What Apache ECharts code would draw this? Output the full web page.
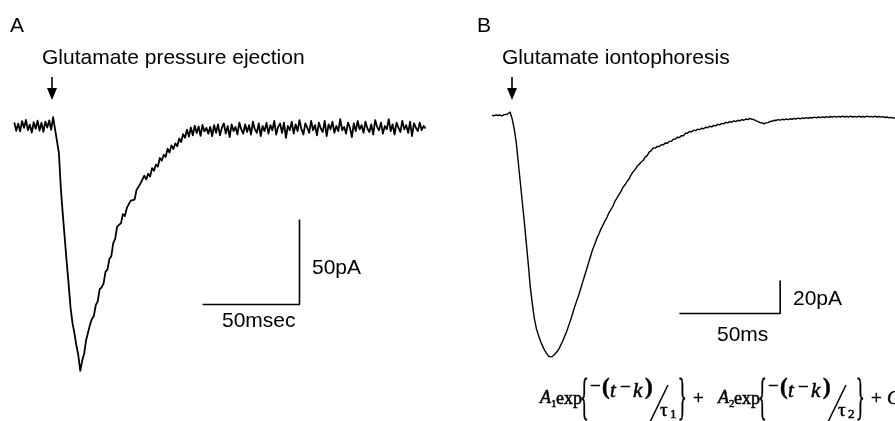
<!DOCTYPE html>
<html>
<head>
<meta charset="utf-8">
<script src="https://cdn.jsdelivr.net/npm/echarts@6/dist/echarts.min.js"></script>
<style>
  html, body { margin: 0; padding: 0; background: #fff; }
  #main { width: 895px; height: 421px; }
</style>
</head>
<body>
<div id="main"></div>
<script>
// sampling step (ms) and first sample time for each trace, 0 = glutamate onset
var dt = 1;
var startA = -22;
var startB = -9;

// A: pressure ejection, current in pA (one row = 10 ms)
var currentA = [
  2.1, -2.8, 1.4, -3.2, 2.9, -1.1, 3.6, -2.4, 0.8, -3.9,
  2.2, -1.6, 3.1, -2.7, 1.9, -3.4, 2.6, -0.9, 3.3, -2.2,
  5.2, -1.8, -1.5, -16, -37, -52, -66, -80, -93, -107,
  -116, -122, -129, -135, -144, -138, -134, -126, -125, -117,
  -113.5, -111.8, -105.4, -103.2, -96.1, -94.9, -92.7, -85.8, -84.5, -78.3,
  -76.6, -68.9, -66.4, -59.2, -58.8, -57.1, -51.8, -53, -48.2, -49.1,
  -43.9, -44.2, -43.3, -37.6, -38.5, -33.9, -34.1, -29.2, -31.4, -28.1,
  -29.7, -24.8, -26.3, -22.7, -23.9, -18.8, -20.4, -16.9, -18.2, -13.3,
  -15.6, -11.4, -13.5, -10.2, -11.9, -7.3, -9.4, -4.8, -6.9, -2.1,
  -6.2, -0.9, -5.5, 0.2, -4.1, -0.3, -5.8, 0.6, -3.2, -1.1,
  -4.5, -0.5, -6, 0.5, -4, 1, -5.5, -1, 1.5, -4.5,
  0, -6.5, 1, -3, -0.5, -5, 2, -2, -4.5, 1,
  -3.5, 0.5, -5, 2.5, -2, -4, 1.5, -6, 0, -3,
  2, -4.5, 0.5, -2.5, 3, -5, -0.5, 1.5, -4, 2,
  -7, 0, -2.5, 2.5, -4.5, 1, -3, 3.5, -2, -5,
  1.5, -1, -4, 3, -2.5, 0.5, -5.5, 2, -1.5, -3.5,
  3, -6, 1, -2, 2.5, -4, 0, -3, 4, -2.5,
  -0.5, -4.5, 2, -1, -6.5, 1.5, -3, 3, -2, 0.5,
  -4, 2.5, -1.5, -3.5, 1, -5, 3.5, -0.5, -2.5, 2,
  -4.5, 0, -2, 4, -3, 1, -5, 2, -1, -3.5,
  3, -2, 0.5, -4, 2.5, -6, 1.5, -1, -3, 2,
  -2.5, 0, -1.5
];

// B: iontophoresis, current in pA (one row = 10 ms)
var currentB = [
  0.2, -0.2, 0.4, 0, 0.3, -0.3, 0.5, 0.6, 1.2, 2.0,
  -2, -8, -16, -28, -40, -52, -64, -77, -90, -104,
  -114, -123, -129, -133, -136.5, -139.5, -142, -144, -145.8, -146.3,
  -146, -144.8, -143.5, -142, -139.5, -137, -134, -131, -127.5, -124,
  -120, -116, -112.5, -109, -105, -101, -97, -93, -89, -85,
  -81, -78, -74.5, -72, -69, -66.5, -64, -62, -59, -57,
  -55, -52, -50, -48, -46, -43.5, -42, -40, -38.5, -36,
  -34.2, -32.8, -30.8, -29.7, -28.2, -27.3, -25.2, -24.3, -22.2, -21.3,
  -19.7, -19.8, -18.7, -18.8, -17.7, -17.8, -16.7, -16.8, -15.7, -15.6,
  -14.4, -14.3, -13.2, -13.3, -12.2, -12.3, -10.8, -10.8, -9.7, -9.9,
  -8.9, -9.2, -8.3, -8.6, -7.7, -8.0, -7.1, -7.4, -6.5, -6.9,
  -6.0, -6.3, -5.4, -5.7, -4.8, -5.1, -4.2, -4.5, -3.7, -4.1,
  -3.3, -3.7, -2.9, -3.3, -2.5, -2.9, -2.1, -2.5, -1.8, -2.3,
  -2.5, -3.3, -3.6, -4.4, -4.5, -5.0, -4.5, -4.3, -3.6, -3.5,
  -2.9, -3.0, -2.5, -2.8, -2.3, -2.6, -2.1, -2.5, -2.0, -2.3,
  -1.8, -2.1, -1.6, -2.0, -1.5, -1.8, -1.3, -1.7, -1.2, -1.5,
  -1.0, -1.4, -0.9, -1.3, -0.8, -1.2, -0.7, -1.1, -0.6, -1.0,
  -0.5, -1.0, -0.5, -0.9, -0.4, -0.9, -0.5, -1.0, -0.4, -0.9,
  -0.5, -1.0, -0.4, -0.9, -0.6, -1.0, -0.4, -0.8, -0.5, -1.0,
  -0.4, -0.9, -0.6, -1.0, -0.7, -1.2, -0.9, -1.4, -1.1, -1.6,
  -1.5
];

// scale bars: [ms, pA] lengths and the corner where the two bars meet
var barSizeA = [50, 50];
var barCornerA = [125, -105];
var barSizeB = [50, 20];
var barCornerB = [134, -120];

var barLabelsA = ['50msec', '50pA'];
var barLabelsB = ['50ms', '20pA'];
var titles = ['Glutamate pressure ejection', 'Glutamate iontophoresis'];

function toPairs(values, t0) {
  return values.map(function (v, i) { return [t0 + i * dt, v]; });
}
function barPath(corner, size) {
  return [
    [corner[0] - size[0], corner[1]],
    corner,
    [corner[0], corner[1] + size[1]]
  ];
}

var SANS = "'Liberation Sans', Arial, sans-serif";
var SERIF = "'Liberation Serif', 'Times New Roman', serif";

function label(str, x, y, size, family, extra) {
  var style = {
    text: str,
    font: (extra || '') + ' ' + size + 'px ' + (family || SANS),
    fill: '#000',
    align: 'left', textAlign: 'left',
    verticalAlign: 'middle', textVerticalAlign: 'middle'
  };
  if (family === SERIF) {
    // scanned formula looks a little heavier than the plain font
    style.stroke = '#000';
    style.lineWidth = 0.5;
  }
  return { type: 'text', x: x, y: y, silent: true, style: style };
}
function arrow(x) {
  return [
    { type: 'line', shape: { x1: x, y1: 77, x2: x, y2: 90 }, style: { stroke: '#000', lineWidth: 1.6 } },
    { type: 'polygon', shape: { points: [[x - 5, 88], [x + 5, 88], [x, 100]] }, style: { fill: '#000' } }
  ];
}
function brace(ch, x) {
  var el = label(ch, x, 399.5, 50, SERIF);
  el.scaleX = 0.36;
  el.style.lineWidth = 0.8;
  return el;
}
function slash(x) {
  return { type: 'line', shape: { x1: x, y1: 422, x2: x + 18, y2: 385 }, style: { stroke: '#000', lineWidth: 1.5 } };
}

// formula  A1 exp{-(t-k)/tau1} + A2 exp{-(t-k)/tau2} + C
function expTerm(x0, sub) {
  return [
    label('A', x0, 398.5, 18, SERIF, 'italic'),
    label(sub, x0 + 11, 404, 11, SERIF),
    label('exp', x0 + 16, 399, 18, SERIF),
    brace('{', x0 + 40),
    label('\u2212', x0 + 50, 387, 19, SERIF),
    label('(', x0 + 62, 388.2, 23, SERIF, 'bold'),
    label('t', x0 + 70, 391, 21, SERIF, 'italic'),
    label('\u2212', x0 + 80, 388, 19, SERIF),
    label('k', x0 + 93, 391, 21, SERIF, 'italic'),
    label(')', x0 + 105, 388.2, 23, SERIF, 'bold'),
    slash(x0 + 110),
    label('\u03c4', x0 + 120, 411, 19, SERIF),
    label(sub, x0 + 130, 414.6, 13, SERIF),
    brace('}', x0 + 138),
    label('+', x0 + 153, 399, 19, SERIF)
  ];
}

var graphics = [
  label('A', 10, 25.8, 21),
  label(titles[0], 42, 58.5, 21),
  label('B', 477, 26.5, 21),
  label(titles[1], 502, 58.5, 21),
  label(barLabelsA[1], 312, 268.5, 21),
  label(barLabelsA[0], 222, 321.7, 21),
  label(barLabelsB[1], 793, 299, 21),
  label(barLabelsB[0], 717, 335, 21),
  label('C', 887, 398.5, 19, SERIF, 'italic')
].concat(arrow(52), arrow(512), expTerm(540, '1'), expTerm(718, '2'));

var chart = echarts.init(document.getElementById('main'), null, { renderer: 'canvas' });

var option = {
  backgroundColor: '#ffffff',
  animation: false,
  grid: [
    { left: 14.3, top: 109, width: 411.3, height: 272 },
    { left: 492, top: 99, width: 403, height: 280.5 }
  ],
  xAxis: [
    { type: 'value', gridIndex: 0, min: -22, max: 190, show: false },
    { type: 'value', gridIndex: 1, min: -9, max: 191, show: false }
  ],
  yAxis: [
    { type: 'value', gridIndex: 0, min: -150, max: 10, show: false },
    { type: 'value', gridIndex: 1, min: -160, max: 10, show: false }
  ],
  series: [
    {
      type: 'line', xAxisIndex: 0, yAxisIndex: 0,
      data: toPairs(currentA, startA),
      symbol: 'none', clip: false,
      lineStyle: { color: '#000', width: 1.8, join: 'round' }
    },
    {
      type: 'line', xAxisIndex: 0, yAxisIndex: 0,
      data: barPath(barCornerA, barSizeA),
      symbol: 'none',
      lineStyle: { color: '#000', width: 1.6 }
    },
    {
      type: 'line', xAxisIndex: 1, yAxisIndex: 1,
      data: toPairs(currentB, startB),
      symbol: 'none', clip: false,
      lineStyle: { color: '#000', width: 1.4, join: 'round' }
    },
    {
      type: 'line', xAxisIndex: 1, yAxisIndex: 1,
      data: barPath(barCornerB, barSizeB),
      symbol: 'none',
      lineStyle: { color: '#000', width: 1.6 }
    }
  ],
  graphic: graphics
};

chart.setOption(option);
</script>
</body>
</html>
